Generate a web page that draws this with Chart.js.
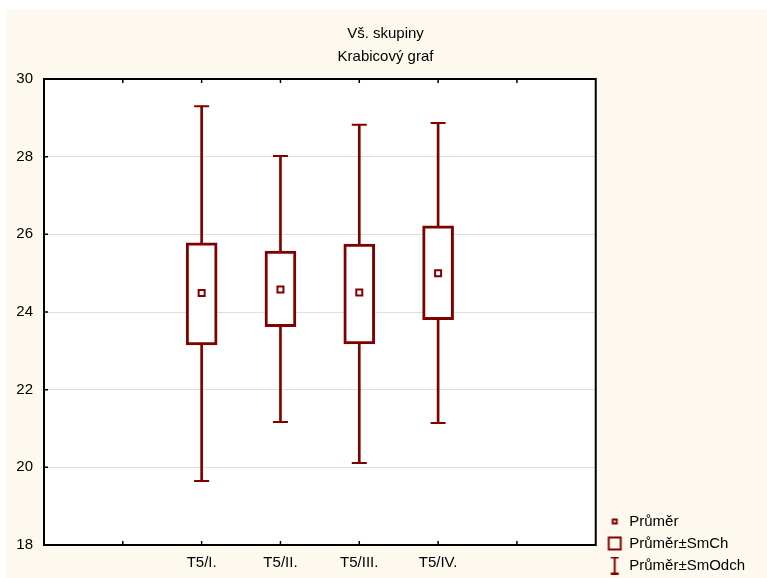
<!DOCTYPE html>
<html>
<head>
<meta charset="utf-8">
<script src="https://cdn.jsdelivr.net/npm/chart.js@4.4.1/dist/chart.umd.min.js"></script>
<style>
  html, body { margin: 0; padding: 0; background: #fff; overflow: hidden; }
  #wrap { position: absolute; left: 6px; top: 10px; width: 761px; height: 572px; }
</style>
</head>
<body>
<div id="wrap"><canvas id="chart" width="761" height="572"></canvas></div>
<script>
'use strict';

// data

let categories = ['T5/I.', 'T5/II.', 'T5/III.', 'T5/IV.'];
let means = [24.49, 24.58, 24.50, 25.00];
let seLow = [23.15, 23.62, 23.18, 23.80];   // Průměr - SmCh
let seHigh = [25.78, 25.57, 25.75, 26.22];  // Průměr + SmCh
let sdLow = [19.65, 21.17, 20.11, 21.14];   // Průměr - SmOdch
let sdHigh = [29.30, 28.02, 28.82, 28.87];  // Průměr + SmOdch
let yTicks = [18, 20, 22, 24, 26, 28, 30];

let maroon = '#800000';
let cream = '#fdf9ef';

// two empty slots each side, like the original
let labels = ['', ''].concat(categories, ['', '']);
function pad(arr) {
  return [null, null].concat(arr, [null, null]);
}

let boxes = [];
let whiskers = [];
for (let i = 0; i < categories.length; i++) {
  boxes.push([seLow[i], seHigh[i]]);
  whiskers.push([sdLow[i], sdHigh[i]]);
}

// little legend icons
function makeIcon(h, draw) {
  let c = document.createElement('canvas');
  c.width = 30;
  c.height = h;
  let g = c.getContext('2d');
  g.strokeStyle = maroon;
  g.lineWidth = 2;
  draw(g, 17.5, h / 2);
  return c;
}
let iconMean = makeIcon(15, function (g, cx, cy) {
  g.strokeRect(cx - 2, cy - 2, 4, 4);
});
let iconBox = makeIcon(15, function (g, cx, cy) {
  g.strokeRect(cx - 6, cy - 6, 12, 12);
});
let iconWhisker = makeIcon(18, function (g, cx, cy) {
  g.beginPath();
  g.moveTo(cx, cy - 8);
  g.lineTo(cx, cy + 8);
  g.moveTo(cx - 4, cy - 8);
  g.lineTo(cx + 4, cy - 8);
  g.moveTo(cx - 4, cy + 8);
  g.lineTo(cx + 4, cy + 8);
  g.stroke();
});

// cream page, white plot
let background = {
  id: 'background',
  beforeDraw(chart) {
    let ctx = chart.ctx;
    let a = chart.chartArea;
    ctx.save();
    ctx.fillStyle = cream;
    ctx.fillRect(0, 0, chart.width, chart.height);
    ctx.fillStyle = '#fff';
    ctx.fillRect(a.left, a.top, a.width, a.height);
    ctx.restore();
  }
};

// black frame with ticks pointing inwards
let frame = {
  id: 'frame',
  afterDraw(chart) {
    let ctx = chart.ctx;
    let a = chart.chartArea;
    let x = chart.scales.x;
    let y = chart.scales.y;
    ctx.save();
    ctx.strokeStyle = '#000';
    ctx.lineWidth = 1.5;
    ctx.beginPath();
    y.ticks.forEach(function (t) {
      let py = y.getPixelForValue(t.value);
      ctx.moveTo(a.left, py);
      ctx.lineTo(a.left + 4, py);
    });
    for (let i = 1; i < labels.length - 1; i++) {
      let px = x.getPixelForValue(i);
      ctx.moveTo(px, a.bottom);
      ctx.lineTo(px, a.bottom - 4);
      ctx.moveTo(px, a.top);
      ctx.lineTo(px, a.top + 4);
    }
    ctx.stroke();
    ctx.lineWidth = 2;
    ctx.strokeRect(a.left, a.top, a.width, a.height);
    ctx.restore();
  }
};

let chartObj = {
  type: 'bar',
  data: {
    labels: labels,
    datasets: [
      {
        type: 'line',
        label: 'Průměr',
        data: pad(means),
        showLine: false,
        pointStyle: 'rect',
        pointRadius: 4.24,
        pointBorderWidth: 2,
        pointBorderColor: maroon,
        pointBackgroundColor: '#fff',
        order: 0
      },
      {
        label: 'Průměr±SmCh',
        data: pad(boxes),
        backgroundColor: '#fff',
        borderColor: maroon,
        borderWidth: 3,
        borderSkipped: false,
        barThickness: 31,
        grouped: false,
        order: 1
      },
      {
        label: 'Průměr±SmOdch',
        data: pad(whiskers),
        backgroundColor: maroon,
        borderWidth: 0,
        barThickness: 2,
        grouped: false,
        order: 2
      },
      {
        type: 'line',
        label: 'cap low',
        data: pad(sdLow),
        showLine: false,
        pointStyle: 'line',
        pointRadius: 7.5,
        pointBorderWidth: 2,
        pointBorderColor: maroon,
        order: 3
      },
      {
        type: 'line',
        label: 'cap high',
        data: pad(sdHigh),
        showLine: false,
        pointStyle: 'line',
        pointRadius: 7.5,
        pointBorderWidth: 2,
        pointBorderColor: maroon,
        order: 3
      }
    ]
  },
  options: {
    responsive: false,
    animation: false,
    events: [],
    layout: {
      padding: { left: 10, right: 12, top: 0, bottom: 2 }
    },
    scales: {
      x: {
        offset: false,
        grid: { display: false, drawTicks: false },
        border: { display: false },
        ticks: {
          autoSkip: false,
          maxRotation: 0,
          padding: 9,
          color: '#000',
          font: { family: 'Arial, "Liberation Sans", sans-serif', size: 15 }
        },
        afterFit: function (scale) {
          scale.height = 35;
        }
      },
      y: {
        min: 18,
        max: 30,
        afterBuildTicks: function (scale) {
          scale.ticks = yTicks.map(function (v) { return { value: v }; });
        },
        afterFit: function (scale) {
          scale.width = 28;
        },
        grid: { color: '#dedede', lineWidth: 1, drawTicks: false },
        border: { display: false },
        ticks: {
          padding: 11,
          color: '#000',
          font: { family: 'Arial, "Liberation Sans", sans-serif', size: 15 }
        }
      }
    },
    plugins: {
      title: {
        display: true,
        text: ['Vš. skupiny', 'Krabicový graf'],
        color: '#000',
        font: { family: 'Arial, "Liberation Sans", sans-serif', size: 15, weight: 'normal', lineHeight: '23px' },
        padding: { top: 12, bottom: 11 }
      },
      legend: {
        position: 'right',
        align: 'end',
        labels: {
          usePointStyle: true,
          pointStyleWidth: 19,
          padding: 7,
          color: '#000',
          font: { family: 'Arial, "Liberation Sans", sans-serif', size: 15 },
          generateLabels: function () {
            return [
              { text: 'Průměr', pointStyle: iconMean, fillStyle: '#fff', strokeStyle: maroon, lineWidth: 0, datasetIndex: 0 },
              { text: 'Průměr±SmCh', pointStyle: iconBox, fillStyle: '#fff', strokeStyle: maroon, lineWidth: 0, datasetIndex: 1 },
              { text: 'Průměr±SmOdch', pointStyle: iconWhisker, fillStyle: '#fff', strokeStyle: maroon, lineWidth: 0, datasetIndex: 2 }
            ];
          }
        }
      },
      tooltip: { enabled: false }
    }
  },
  plugins: [background, frame]
};

new Chart(document.getElementById('chart'), chartObj);
</script>
</body>
</html>
